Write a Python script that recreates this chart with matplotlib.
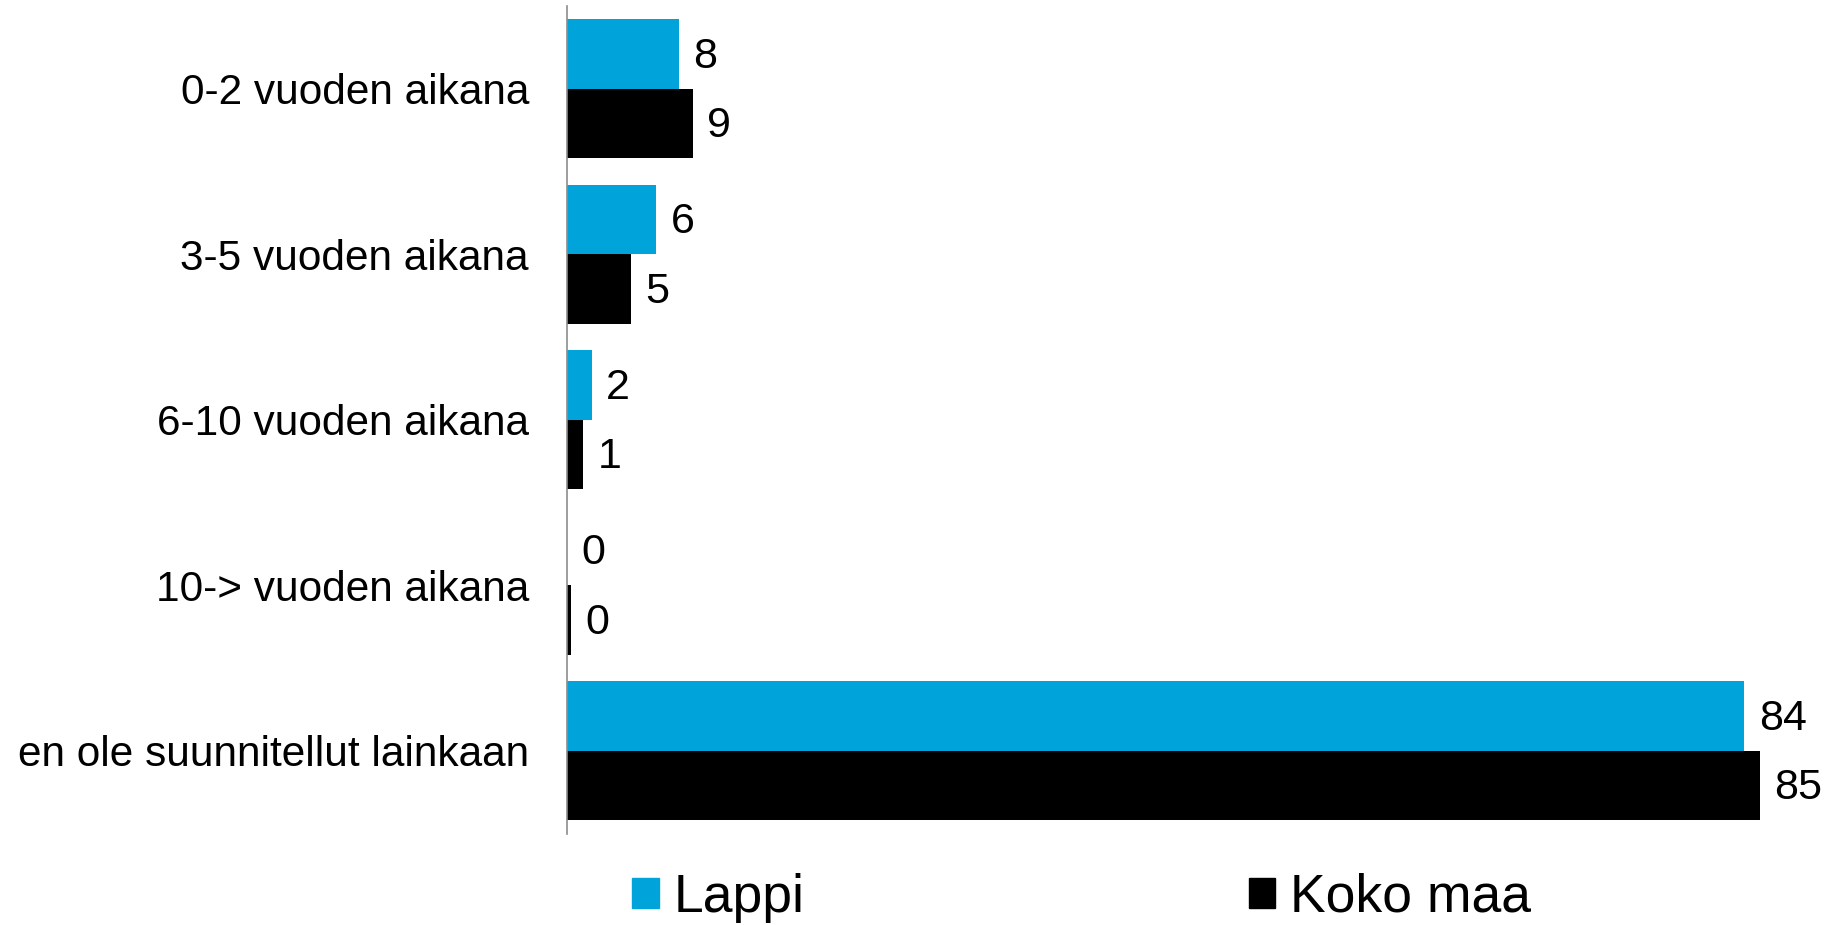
import numpy as np
import matplotlib
matplotlib.use("Agg")
import matplotlib.pyplot as plt
from matplotlib.patches import Patch

plt.rcParams['font.family'] = ['Liberation Sans', 'DejaVu Sans']

categories = ["0-2 vuoden aikana", "3-5 vuoden aikana", "6-10 vuoden aikana",
              "10-> vuoden aikana", "en ole suunnitellut lainkaan"]
series_names = ["Lappi", "Koko maa"]
lappi = [8.0, 6.4, 1.8, 0.0, 83.9]
koko_maa = [9.0, 4.6, 1.2, 0.3, 85.0]
lappi_labels = ["8", "6", "2", "0", "84"]
koko_labels = ["9", "5", "1", "0", "85"]

blue = "#00A4DA"
black = "#000000"

fig = plt.figure(figsize=(18.37, 9.25), dpi=100)
ax = fig.add_axes([566.5 / 1837, 1 - 833.5 / 925, (1830 - 566.5) / 1837, (833.5 - 6) / 925])

y = np.arange(len(categories))
h = 0.42
b1 = ax.barh(y - h / 2, lappi, height=h, color=blue, label=series_names[0])
b2 = ax.barh(y + h / 2, koko_maa, height=h, color=black, label=series_names[1])

for bars, labs in ((b1, lappi_labels), (b2, koko_labels)):
    for bar, lab in zip(bars, labs):
        ax.annotate(lab, (bar.get_width(), bar.get_y() + bar.get_height() / 2),
                    xytext=(10.5, -2), textcoords="offset points",
                    ha="left", va="center", fontsize=31, annotation_clip=False)

ax.set_xlim(0, 90)
ax.set_ylim(len(categories) - 0.5, -0.5)
ax.set_yticks(y)
ax.set_yticklabels(categories, fontsize=30.5)
ax.tick_params(axis="y", length=0, pad=27)
ax.set_xticks([])
for s in ("top", "right", "bottom"):
    ax.spines[s].set_visible(False)
ax.spines["left"].set_color("#8c8c8c")
ax.spines["left"].set_linewidth(1.2)

handles = [Patch(color=blue), Patch(color=black)]
fig.legend(handles, series_names, loc="center left",
           bbox_to_anchor=(632 / 1837, 1 - 898 / 925), ncol=2, frameon=False,
           fontsize=38.5, handlelength=0.5, handleheight=0.5, handletextpad=0.28,
           columnspacing=8.3, borderpad=0, borderaxespad=0)

fig.savefig("out.png", dpi=100)
